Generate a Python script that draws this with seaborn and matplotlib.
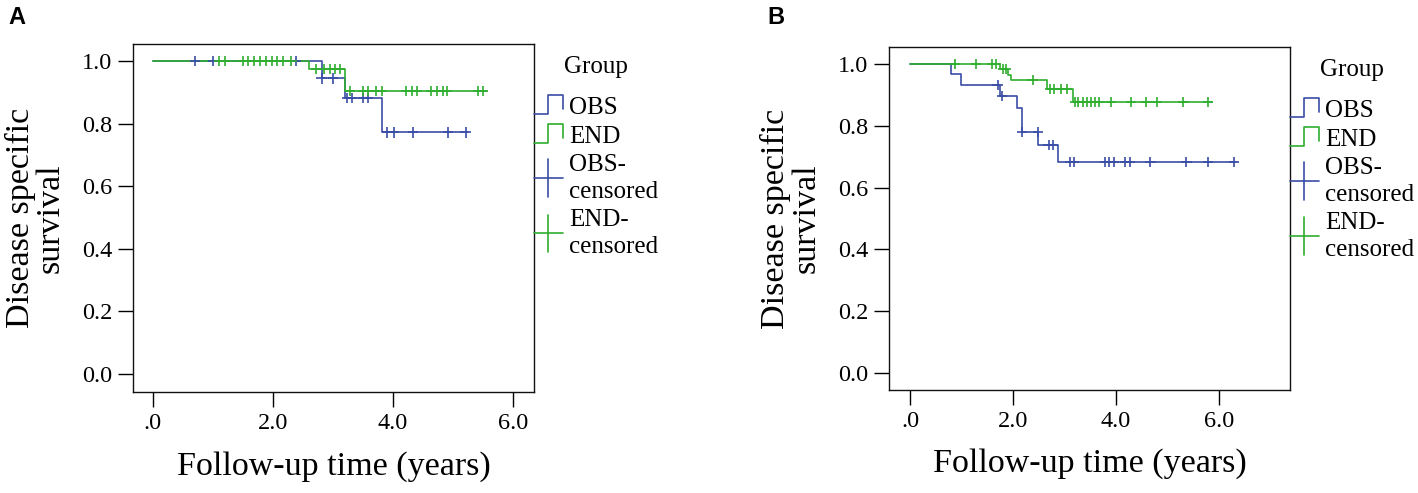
import numpy as np
import pandas as pd
import matplotlib
matplotlib.use('Agg')
import matplotlib.pyplot as plt
import seaborn as sns
from matplotlib.legend_handler import HandlerBase
from matplotlib.lines import Line2D

# Panel A - step times / survival after each step, end of follow-up, censored times
a_obs_times = [0.0, 2.81, 3.20, 3.82]
a_obs_surv = [1.0, 0.945, 0.882, 0.772]
a_obs_end = 5.25
a_obs_censored = [0.70, 1.00, 2.39, 2.81, 3.00, 3.23, 3.31, 3.50, 3.59,
                  3.90, 4.02, 4.33, 4.92, 5.21]

a_end_times = [0.0, 2.60, 3.20]
a_end_surv = [1.0, 0.974, 0.905]
a_end_end = 5.57
a_end_censored = [1.11, 1.20, 1.51, 1.59, 1.68, 1.78, 1.88, 1.98, 2.07, 2.17,
                  2.31, 2.72, 2.85, 2.95, 3.03, 3.12, 3.28, 3.50, 3.59, 3.72,
                  3.81, 4.22, 4.31, 4.40, 4.63, 4.73, 4.83, 4.90, 5.42, 5.50]

# Panel B
b_obs_times = [0.0, 0.79, 0.99, 1.75, 2.08, 2.17, 2.49, 2.88]
b_obs_surv = [1.0, 0.967, 0.933, 0.897, 0.857, 0.781, 0.738, 0.682]
b_obs_end = 6.34
b_obs_censored = [1.70, 1.78, 2.18, 2.48, 2.69, 2.77, 3.11, 3.18, 3.79, 3.87,
                  3.96, 4.17, 4.27, 4.67, 5.37, 5.79, 6.29]

b_end_times = [0.0, 1.75, 1.90, 1.96, 2.67, 3.17]
b_end_surv = [1.0, 0.984, 0.966, 0.948, 0.919, 0.878]
b_end_end = 5.86
b_end_censored = [0.87, 1.28, 1.59, 1.67, 1.80, 1.86, 2.38, 2.72, 2.80, 2.94,
                  3.04, 3.20, 3.27, 3.36, 3.43, 3.51, 3.59, 3.68, 3.90, 4.29,
                  4.58, 4.79, 5.31, 5.79]

groups = ['OBS', 'END']
colors = {'OBS': '#3a4ea6', 'END': '#2fae2f'}
x_ticks = [0, 2, 4, 6]
x_tick_labels = ['.0', '2.0', '4.0', '6.0']
y_ticks = [0.0, 0.2, 0.4, 0.6, 0.8, 1.0]
y_tick_labels = ['0.0', '0.2', '0.4', '0.6', '0.8', '1.0']


def build_frames(curves):
    step_rows = []
    cens_rows = []
    for group, (times, surv, end, cens) in curves.items():
        for t, s in zip(times, surv):
            step_rows.append((group, t, s))
        step_rows.append((group, end, surv[-1]))
        idx = np.searchsorted(times, cens, side='right') - 1
        for t, i in zip(cens, idx):
            cens_rows.append((group, t, surv[i]))
    steps = pd.DataFrame(step_rows, columns=['group', 'time', 'surv'])
    censored = pd.DataFrame(cens_rows, columns=['group', 'time', 'surv'])
    return steps, censored


class StepHandler(HandlerBase):
    def create_artists(self, legend, orig_handle, xdescent, ydescent,
                       width, height, fontsize, trans):
        x0, y0 = -xdescent, -ydescent
        xs = [x0, x0 + 0.5 * width, x0 + 0.5 * width, x0 + width, x0 + width]
        ys = [y0, y0, y0 + 1.1 * height, y0 + 1.1 * height, y0 + 0.3 * height]
        return [Line2D(xs, ys, color=orig_handle.get_color(), lw=1.2,
                       transform=trans)]


class CensorHandler(HandlerBase):
    def create_artists(self, legend, orig_handle, xdescent, ydescent,
                       width, height, fontsize, trans):
        x0, y0 = -xdescent, -ydescent
        yc = y0 + height / 2
        c = orig_handle.get_color()
        h = Line2D([x0, x0 + width], [yc, yc], color=c, lw=1.2, transform=trans)
        v = Line2D([x0 + 0.5 * width] * 2, [yc - 0.75 * fontsize, yc + 0.75 * fontsize],
                   color=c, lw=1.2, transform=trans)
        return [h, v]


sns.set_style('white')
plt.rcParams['font.family'] = ['Liberation Serif', 'DejaVu Serif']
plt.rcParams['text.color'] = 'black'
plt.rcParams['axes.labelcolor'] = 'black'
plt.rcParams['xtick.color'] = 'black'
plt.rcParams['ytick.color'] = 'black'

fig = plt.figure(figsize=(14.18, 4.93), dpi=100)
ax_a = fig.add_axes([0.0938, 0.2049, 0.2828, 0.7059])
ax_b = fig.add_axes([0.6269, 0.2089, 0.2828, 0.6957])

panels = [
    (ax_a, {'OBS': (a_obs_times, a_obs_surv, a_obs_end, a_obs_censored),
            'END': (a_end_times, a_end_surv, a_end_end, a_end_censored)},
     (-0.33, 6.35), (-0.058, 1.055)),
    (ax_b, {'OBS': (b_obs_times, b_obs_surv, b_obs_end, b_obs_censored),
            'END': (b_end_times, b_end_surv, b_end_end, b_end_censored)},
     (-0.41, 7.38), (-0.055, 1.055)),
]

for ax, curves, xlim, ylim in panels:
    steps, censored = build_frames(curves)
    sns.lineplot(data=steps, x='time', y='surv', hue='group', hue_order=groups,
                 palette=colors, drawstyle='steps-post', estimator=None,
                 sort=False, legend=False, linewidth=1.2, ax=ax)
    sns.scatterplot(data=censored, x='time', y='surv', hue='group',
                    hue_order=groups, palette=colors, marker='+', s=55,
                    linewidth=1.2, legend=False, ax=ax, zorder=3)
    ax.set_xlim(*xlim)
    ax.set_ylim(*ylim)
    ax.set_xticks(x_ticks)
    ax.set_xticklabels(x_tick_labels)
    ax.set_yticks(y_ticks)
    ax.set_yticklabels(y_tick_labels)
    ax.tick_params(axis='both', which='both', direction='out', length=11,
                   width=1.0, color='black', labelcolor='black', labelsize=17.5,
                   pad=4, left=True, bottom=True)
    for sp in ax.spines.values():
        sp.set_color('#111111')
        sp.set_linewidth(1.0)
    ax.set_xlabel('Follow-up time (years)', fontsize=24.5)
    ax.set_ylabel('Disease specific\nsurvival', fontsize=24.5, linespacing=1.0)
    ax.yaxis.set_label_coords(-0.167, 0.5)
    ax.xaxis.set_label_coords(0.5, -0.17)

    h_obs = Line2D([], [], color=colors['OBS'])
    h_end = Line2D([], [], color=colors['END'])
    h_obs_c = Line2D([], [], color=colors['OBS'])
    h_end_c = Line2D([], [], color=colors['END'])
    leg = ax.legend([h_obs, h_end, h_obs_c, h_end_c],
                    ['OBS', 'END', 'OBS-\ncensored', 'END-\ncensored'],
                    handler_map={h_obs: StepHandler(), h_end: StepHandler(),
                                 h_obs_c: CensorHandler(), h_end_c: CensorHandler()},
                    title='Group', title_fontsize=18, fontsize=18,
                    loc='upper left', bbox_to_anchor=(1.0, 0.965), frameon=False,
                    borderpad=0, borderaxespad=0, handlelength=1.15,
                    handletextpad=0.25, labelspacing=0.24)
    for t in leg.get_texts():
        t.set_linespacing(1.3)
    # extra gap between the "Group" title and the entries
    leg._legend_box.sep = 0.36 * 18 + 7

fig.text(8 / 1418, 1 - 6 / 493, 'A', fontsize=17, fontweight='bold',
         family='Liberation Sans', va='top', ha='left')
fig.text(767 / 1418, 1 - 6 / 493, 'B', fontsize=17, fontweight='bold',
         family='Liberation Sans', va='top', ha='left')

fig.savefig('out.png', dpi=100)
